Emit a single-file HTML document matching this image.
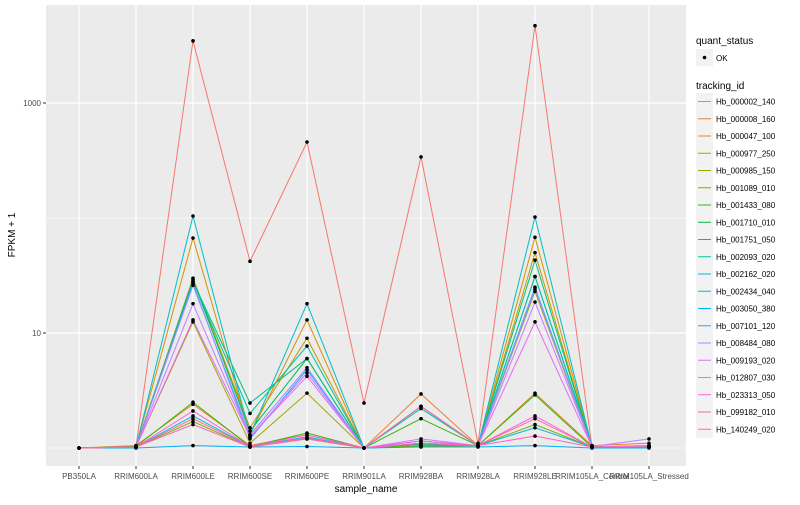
<!DOCTYPE html>
<html><head><meta charset="utf-8"><style>
body{margin:0;background:#fff;font-family:"Liberation Sans",sans-serif}
svg text{font-family:"Liberation Sans",sans-serif}
</style></head><body>
<svg id="c" width="800" height="500" xmlns="http://www.w3.org/2000/svg"></svg>
<script>
const categories=["PB350LA","RRIM600LA","RRIM600LE","RRIM600SE","RRIM600PE","RRIM901LA","RRIM928BA","RRIM928LA","RRIM928LE","RRIM105LA_Control","RRIM105LA_Stressed"];
const seriesNames=["Hb_000002_140","Hb_000008_160","Hb_000047_100","Hb_000977_250","Hb_000985_150","Hb_001089_010","Hb_001433_080","Hb_001710_010","Hb_001751_050","Hb_002093_020","Hb_002162_020","Hb_002434_040","Hb_003050_380","Hb_007101_120","Hb_008484_080","Hb_009193_020","Hb_012807_030","Hb_023313_050","Hb_099182_010","Hb_140249_020"];
const s0=[1,1.03,3470,42,458,2.46,340,1.1,4700,1.02,1.02];
const s1=[1,1.05,2.4,1.05,1.3,1,2.95,1.05,3.0,1.05,1.1];
const s2=[1,1.02,67,1.3,13,1,1.05,1.05,68,1.03,1.03];
const s3=[1,1.02,30,1.5,9,1,1.05,1.05,50,1.02,1.02];
const s4=[1,1.02,12.5,1.1,3,1,1.03,1.05,23,1.02,1.02];
const s5=[1,1.02,1.7,1.02,1.2,1,1.05,1.05,1.6,1.02,1.02];
const s6=[1,1.03,2.5,1.03,1.35,1,1.8,1.05,2.9,1.02,1.02];
const s7=[1,1.02,29,1.4,6,1,1.08,1.05,31,1.02,1.02];
const s8=[1,1.02,28,2.46,6,1,1.1,1.05,43,1.02,1.02];
const s9=[1,1.02,28,2.0,7.7,1,2.2,1.05,31,1.02,1.02];
const s10=[1,1.02,104,1.3,18,1,2.3,1.05,102,1.02,1.02];
const s11=[1,1.02,1.9,1.03,1.25,1,1.15,1.05,1.5,1.02,1.02];
const s12=[1,1.0,1.05,1.02,1.03,1,1.02,1.02,1.05,1.0,1.0];
const s13=[1,1.02,27,1.2,4.8,1,2.3,1.05,25,1.02,1.03];
const s14=[1,1.02,26,1.3,5,1,2.3,1.05,24,1.02,1.05];
const s15=[1,1.02,18,1.25,4.5,1,1.2,1.05,18.6,1.03,1.2];
const s16=[1,1.02,13,1.25,4.2,1,1.1,1.05,12.5,1.02,1.05];
const s17=[1,1.02,2.1,1.03,1.3,1,1.15,1.05,1.9,1.02,1.02];
const s18=[1,1.02,1.6,1.02,1.2,1,1.1,1.05,1.27,1.02,1.02];
const s19=[1,1.02,1.8,1.03,1.22,1,2.3,1.05,1.8,1.02,1.02];
const seriesValues=[s0,s1,s2,s3,s4,s5,s6,s7,s8,s9,s10,s11,s12,s13,s14,s15,s16,s17,s18,s19];
const yTicks=[10,1000];
const yTickLabels=["10","1000"];
const yMinor=[1,100];

const NS="http://www.w3.org/2000/svg";
const svg=document.getElementById('c');
function mk(t,a,p){const e=document.createElementNS(NS,t);for(const k in a)e.setAttribute(k,a[k]);(p||svg).appendChild(e);return e;}
const PL=46,PR=686,PT=5,PB=466;
function xs(i){return 79+i*57;}
function ys(v){return 448-Math.log10(v)*115;}
function hcl(h){const L=65,C=100,r=h*Math.PI/180;const u=C*Math.cos(r),v=C*Math.sin(r);const Y=Math.pow((L+16)/116,3);const up=u/(13*L)+0.1978,vp=v/(13*L)+0.4683;const X=Y*9*up/(4*vp),Z=Y*(12-3*up-20*vp)/(4*vp);
let rgb=[3.2406*X-1.5372*Y-0.4986*Z,-0.9689*X+1.8758*Y+0.0415*Z,0.0557*X-0.2040*Y+1.0570*Z];
return '#'+rgb.map(c=>{c=c<=0.0031308?12.92*c:1.055*Math.pow(c,1/2.4)-0.055;c=Math.max(0,Math.min(1,c));return Math.round(c*255).toString(16).padStart(2,'0');}).join('');}
const colors=seriesNames.map((_,i)=>hcl(15+360*i/20));

const panel=mk('rect',{x:PL,y:PT,width:PR-PL,height:PB-PT,fill:'#ebebeb'});

yMinor.forEach(v=>{const l=mk('line',{x1:PL,x2:PR,y1:ys(v),y2:ys(v),stroke:'#fff','stroke-width':0.6});});
yTicks.forEach((v,i)=>{const l=mk('line',{x1:PL,x2:PR,y1:ys(v),y2:ys(v),stroke:'#fff','stroke-width':1.2});
const t=mk('text',{x:PL-5,y:ys(v)+3,'text-anchor':'end','font-size':8,fill:'#4d4d4d'});t.textContent=yTickLabels[i];
mk('line',{x1:PL-3,x2:PL,y1:ys(v),y2:ys(v),stroke:'#333','stroke-width':1});});
categories.forEach((c,i)=>{const l=mk('line',{x1:xs(i),x2:xs(i),y1:PT,y2:PB,stroke:'#fff','stroke-width':1.2});
mk('line',{x1:xs(i),x2:xs(i),y1:PB,y2:PB+3,stroke:'#333','stroke-width':1});
const t=mk('text',{x:xs(i),y:479,'text-anchor':'middle','font-size':8,fill:'#4d4d4d'});t.textContent=c;});
seriesValues.forEach((vals,si)=>{const p=mk('polyline',{points:vals.map((v,i)=>xs(i)+','+ys(v)).join(' '),fill:'none',stroke:colors[si],'stroke-width':1});
});
seriesValues.forEach(vals=>vals.forEach((v,i)=>{const d=mk('circle',{cx:xs(i),cy:ys(v),r:1.8,fill:'#000'});}));
let t=mk('text',{x:366,y:492,'text-anchor':'middle','font-size':10,fill:'#000'});t.textContent='sample_name';
t=mk('text',{x:15,y:235,'text-anchor':'middle','font-size':10,fill:'#000',transform:'rotate(-90 15 235)'});t.textContent='FPKM + 1';
t=mk('text',{x:696,y:44,'font-size':10,fill:'#000'});t.textContent='quant_status';
mk('rect',{x:696,y:49,width:17,height:17,fill:'#f2f2f2'});
mk('circle',{cx:704.5,cy:57.5,r:1.8,fill:'#000'});
t=mk('text',{x:716,y:61,'font-size':8,fill:'#000'});t.textContent='OK';
t=mk('text',{x:696,y:89,'font-size':10,fill:'#000'});t.textContent='tracking_id';
seriesNames.forEach((n,i)=>{const y=93+i*17.25;
mk('rect',{x:696,y:y,width:17,height:17,fill:'#f2f2f2'});
mk('line',{x1:698,x2:711,y1:y+8.5,y2:y+8.5,stroke:colors[i],'stroke-width':1});
const tt=mk('text',{x:716,y:y+11.5,'font-size':8,fill:'#000'});tt.textContent=n;});
</script>
</body></html>
